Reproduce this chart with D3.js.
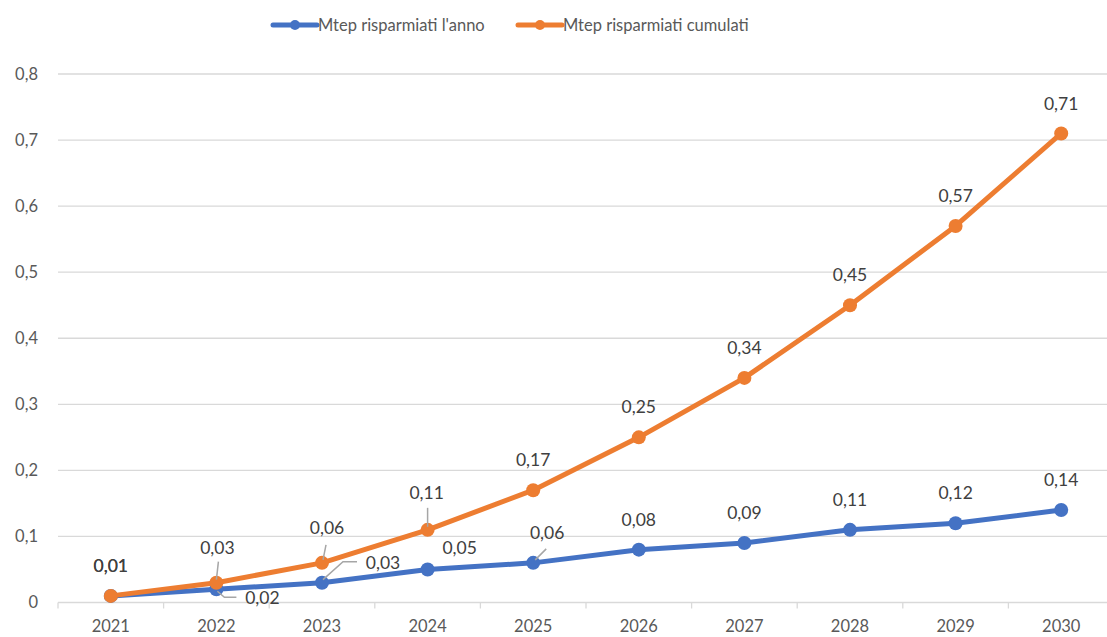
<!DOCTYPE html>
<html>
<head>
<meta charset="utf-8">
<script src="https://cdn.jsdelivr.net/npm/d3@7/dist/d3.min.js"></script>
<style>
  html, body { margin: 0; padding: 0; background: #ffffff; overflow: hidden; }
  svg { display: block; font-family: Lato, "Open Sans", sans-serif; }
</style>
</head>
<body>
<svg id="chart" width="1107" height="637"></svg>
<script>
// Energy savings (Mtep) per year and cumulated
const years = ["2021", "2022", "2023", "2024", "2025", "2026", "2027", "2028", "2029", "2030"];
const annualSavings = [0.01, 0.02, 0.03, 0.05, 0.06, 0.08, 0.09, 0.11, 0.12, 0.14];
const cumulativeSavings = [0.01, 0.03, 0.06, 0.11, 0.17, 0.25, 0.34, 0.45, 0.57, 0.71];
const yTicks = [0, 0.1, 0.2, 0.3, 0.4, 0.5, 0.6, 0.7, 0.8];
const seriesNames = ["Mtep risparmiati l'anno", "Mtep risparmiati cumulati"];

(function draw() {
  const colors = ["#4472C4", "#ED7D31"];
  const itLocale = d3.formatLocale({ decimal: ",", thousands: ".", grouping: [3], currency: ["€", ""] });
  const fmtLabel = v => itLocale.format(".2f")(v);
  const fmtTick = v => (v === 0 ? "0" : itLocale.format(".1f")(v));

  const svg = d3.select("#chart");
  const plotLeft = 58, bandW = 105.6, plotBottom = 602.5, plotTop = 74;

  const x = d3.scaleBand().domain(years).range([plotLeft, plotLeft + bandW * years.length]);
  const cx = d => x(d) + x.bandwidth() / 2;
  const y = d3.scaleLinear().domain([0, 0.8]).range([plotBottom, plotTop]);

  // horizontal gridlines
  svg.append("g").selectAll("line").data(yTicks.filter(t => t > 0)).join("line")
    .attr("x1", plotLeft).attr("x2", 1107)
    .attr("y1", d => y(d)).attr("y2", d => y(d))
    .attr("stroke", "#D9D9D9").attr("stroke-width", 1.3);

  // y axis tick labels
  svg.append("g").selectAll("text").data(yTicks).join("text")
    .attr("x", 38).attr("y", d => y(d)).attr("dy", "0.35em")
    .attr("text-anchor", "end").attr("fill", "#595959").attr("font-size", 16.5)
    .text(fmtTick);

  // x axis baseline and category labels
  const xAxis = d3.axisBottom(x).tickSize(0).tickFormat(d => d);
  const gx = svg.append("g").attr("transform", `translate(0,${plotBottom})`).call(xAxis);
  gx.select(".domain").attr("stroke", "#D9D9D9").attr("stroke-width", 1.3)
    .attr("d", `M${plotLeft},0H1107`);
  gx.selectAll(".tick text").attr("fill", "#595959").attr("font-size", 16.5)
    .attr("font-family", "Lato, 'Open Sans', sans-serif").attr("y", 18).attr("dy", "0.71em");
  // tick marks between categories
  svg.append("g").selectAll("line").data(d3.range(years.length + 1)).join("line")
    .attr("x1", i => plotLeft + i * bandW).attr("x2", i => plotLeft + i * bandW)
    .attr("y1", plotBottom).attr("y2", plotBottom + 6)
    .attr("stroke", "#D9D9D9").attr("stroke-width", 1.3);

  // series lines and markers
  const series = [annualSavings, cumulativeSavings];
  const line = d3.line().x((d, i) => cx(years[i])).y(d => y(d));
  series.forEach((vals, s) => {
    const g = svg.append("g");
    g.append("path").datum(vals).attr("d", line)
      .attr("fill", "none").attr("stroke", colors[s]).attr("stroke-width", 5)
      .attr("stroke-linejoin", "round").attr("stroke-linecap", "round");
    g.selectAll("circle").data(vals).join("circle")
      .attr("cx", (d, i) => cx(years[i])).attr("cy", d => y(d)).attr("r", 7)
      .attr("fill", colors[s]);
  });

  // data labels: default placement sits above the point; a few are nudged
  // with a leader line so they do not collide with the other series
  const nudges = {
    "0-1": { dx: 46, dy: 9, leader: [[1, 2], [8, 8], [20, 8]] },
    "0-2": { dx: 61, dy: -20, leader: [[1, -3], [21, -21], [35, -21]] },
    "0-3": { dx: 32, dy: -22 },
    "0-4": { dx: 14, dy: -30, leader: [[2, -3], [13, -14]] },
    "1-1": { dx: 1, dy: -35, leader: [[0, -3], [2, -21]] },
    "1-2": { dx: 5, dy: -35, leader: [[1, -3], [4, -18]] },
    "1-3": { dx: -1, dy: -37, leader: [[0, -3], [0, -22]] }
  };
  const labels = svg.append("g");
  series.forEach((vals, s) => {
    vals.forEach((v, i) => {
      const px = cx(years[i]), py = y(v);
      const n = nudges[`${s}-${i}`] || { dx: 0, dy: -30 };
      if (n.leader) {
        labels.append("path")
          .attr("d", d3.line()(n.leader.map(p => [px + p[0], py + p[1]])))
          .attr("fill", "none").attr("stroke", "#A6A6A6").attr("stroke-width", 1.5);
      }
      labels.append("text")
        .attr("x", px + n.dx).attr("y", py + n.dy).attr("dy", "0.35em")
        .attr("text-anchor", "middle").attr("fill", "#404040").attr("font-size", 17.5)
        .text(fmtLabel(v));
    });
  });

  // legend
  const legendItems = [
    { x: 273, name: seriesNames[0], c: colors[0] },
    { x: 518, name: seriesNames[1], c: colors[1] }
  ];
  const lg = svg.append("g").attr("transform", "translate(0,25)");
  legendItems.forEach(item => {
    lg.append("line").attr("x1", item.x).attr("x2", item.x + 44).attr("y1", 0).attr("y2", 0)
      .attr("stroke", item.c).attr("stroke-width", 5).attr("stroke-linecap", "round");
    lg.append("circle").attr("cx", item.x + 22).attr("cy", 0).attr("r", 5).attr("fill", item.c);
    lg.append("text").attr("x", item.x + 45).attr("y", 0).attr("dy", "0.35em")
      .attr("fill", "#595959").attr("font-size", 16.5).text(item.name);
  });
})();
</script>
</body>
</html>
